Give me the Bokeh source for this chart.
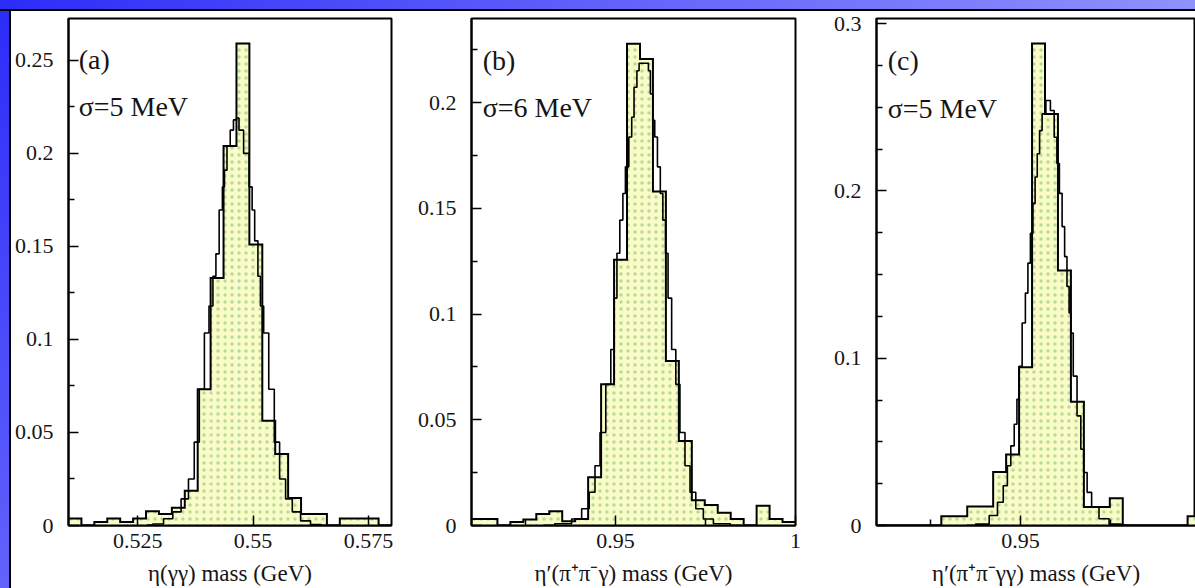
import numpy as np
from bokeh.plotting import figure
from bokeh.layouts import row, column
from bokeh.models import Div, FixedTicker, Label, Range1d
from bokeh.embed import file_html
from bokeh.resources import INLINE

# ---------------- data ----------------
# panel (a): eta -> gamma gamma
a_edges = [0.5100, 0.5128, 0.5156, 0.5184, 0.5212, 0.5240, 0.5268, 0.5296, 0.5324,
           0.5352, 0.5380, 0.5408, 0.5436, 0.5464, 0.5492, 0.5520, 0.5548, 0.5576,
           0.5604, 0.5632, 0.5660, 0.5688, 0.5716, 0.5744, 0.5772, 0.5800]
a_counts = [0.0038, 0.0, 0.0019, 0.0038, 0.0019, 0.0038, 0.0077, 0.0062, 0.0095,
            0.0187, 0.0732, 0.133, 0.204, 0.259, 0.151, 0.0563, 0.0384, 0.0148,
            0.0062, 0.0062, 0.0, 0.0038, 0.0038, 0.0038, 0.0]
a_fit_x = [0.5270, 0.5295, 0.5317, 0.5335, 0.5353, 0.5367, 0.5378, 0.5389, 0.5400,
           0.5409, 0.5417, 0.5422, 0.5431, 0.5436, 0.5440, 0.5447, 0.5454, 0.5461,
           0.5467, 0.5472, 0.5487, 0.5496, 0.5500, 0.5507, 0.5514, 0.5518, 0.5528,
           0.5540, 0.5552, 0.5563, 0.5578, 0.5592, 0.5614, 0.5635, 0.5660]
a_fit_y = [0.0002, 0.0008, 0.0036, 0.0073, 0.0143, 0.025, 0.0448, 0.0732, 0.1035,
           0.118, 0.134, 0.146, 0.1696, 0.182, 0.191, 0.204, 0.2125, 0.218,
           0.219, 0.2125, 0.2, 0.182, 0.1696, 0.153, 0.134, 0.118, 0.1035,
           0.0732, 0.0448, 0.025, 0.0143, 0.0073, 0.0025, 0.0005, 0.0001]

# panel (b): eta' -> pi+ pi- gamma
b_edges = [0.9100, 0.9136, 0.9172, 0.9208, 0.9244, 0.9280, 0.9316, 0.9352, 0.9388,
           0.9424, 0.9460, 0.9496, 0.9532, 0.9568, 0.9604, 0.9640, 0.9676, 0.9712,
           0.9748, 0.9784, 0.9820, 0.9856, 0.9892, 0.9928, 0.9964, 1.0000]
b_counts = [0.0031, 0.0031, 0.0, 0.0016, 0.0028, 0.0055, 0.0068, 0.0020, 0.0031,
            0.0228, 0.0668, 0.1257, 0.228, 0.2207, 0.158, 0.0778, 0.040, 0.012,
            0.0097, 0.006, 0.0031, 0.0, 0.0094, 0.0031, 0.0016]
b_fit_x = [0.9300, 0.9362, 0.9394, 0.9418, 0.9436, 0.9450, 0.9464, 0.9482, 0.9492,
           0.9501, 0.9507, 0.9517, 0.9524, 0.9531, 0.9543, 0.9547, 0.9556, 0.9563,
           0.9568, 0.9590, 0.9593, 0.9601, 0.9606, 0.9612, 0.9621, 0.9628, 0.9635,
           0.9643, 0.9649, 0.9663, 0.9672, 0.9686, 0.9700, 0.9714, 0.9732, 0.9756,
           0.9788, 0.9850]
b_fit_y = [0.0001, 0.0008, 0.0031, 0.0079, 0.0157, 0.0283, 0.044, 0.0668, 0.0833,
           0.1076, 0.1288, 0.1445, 0.1571, 0.1697, 0.1838, 0.1932, 0.2074, 0.2152,
           0.2187, 0.2187, 0.2152, 0.2042, 0.1917, 0.1838, 0.1697, 0.1571, 0.1445,
           0.1288, 0.1076, 0.0833, 0.0668, 0.044, 0.0283, 0.0157, 0.0079, 0.0031,
           0.0008, 0.0001]

# panel (c): eta' -> pi+ pi- gamma gamma
c_edges = b_edges
c_counts = [0.0, 0.0, 0.0, 0.0, 0.0, 0.0055, 0.0055, 0.0113, 0.0113,
            0.032, 0.0425, 0.0946, 0.288, 0.246, 0.1524, 0.074, 0.011, 0.011,
            0.0163, 0.0, 0.0, 0.0, 0.0, 0.0, 0.0056]
c_fit_x = [0.9350, 0.9399, 0.9427, 0.9445, 0.9459, 0.9468, 0.9478, 0.9487, 0.9493,
           0.9499, 0.9510, 0.9517, 0.9524, 0.9531, 0.9538, 0.9543, 0.9550, 0.9556,
           0.9564, 0.9577, 0.9589, 0.9598, 0.9604, 0.9612, 0.9619, 0.9626, 0.9632,
           0.9638, 0.9642, 0.9651, 0.9663, 0.9672, 0.9679, 0.9691, 0.9704, 0.9732,
           0.9760, 0.9800]
c_fit_y = [0.0001, 0.0008, 0.006, 0.0139, 0.0238, 0.0357, 0.0476, 0.0605, 0.0754,
           0.0952, 0.121, 0.1389, 0.1568, 0.1746, 0.1925, 0.2083, 0.2222, 0.236,
           0.246, 0.254, 0.248, 0.232, 0.2163, 0.1985, 0.1786, 0.1607, 0.1429,
           0.127, 0.115, 0.0893, 0.0655, 0.0456, 0.0317, 0.0198, 0.011, 0.004,
           0.0008, 0.0001]

# axis ticks and labels
a_xticks = [0.525, 0.55, 0.575]
a_xlabels = ["0.525", "0.55", "0.575"]
a_yticks = [0, 0.05, 0.1, 0.15, 0.2, 0.25]
a_ylabels = ["0", "0.05", "0.1", "0.15", "0.2", "0.25"]
a_yminor = [0.025, 0.075, 0.125, 0.175, 0.225]

b_xticks = [0.95, 1.0]
b_xlabels = ["0.95", "1"]
b_xminor = [0.925, 0.975]
b_yticks = [0, 0.05, 0.1, 0.15, 0.2]
b_ylabels = ["0", "0.05", "0.1", "0.15", "0.2"]
b_yminor = [0.025, 0.075, 0.125, 0.175, 0.225]

c_xticks = [0.95, 1.0]
c_xlabels = ["0.95", "1"]
c_xminor = [0.925, 0.975]
c_yticks = [0, 0.1, 0.2, 0.3]
c_ylabels = ["0", "0.1", "0.2", "0.3"]
c_yminor = [0.025, 0.05, 0.075, 0.125, 0.15, 0.175, 0.225, 0.25, 0.275]

titles = ["η(γγ) mass (GeV)", "η′(π⁺π⁻γ) mass (GeV)", "η′(π⁺π⁻γγ) mass (GeV)"]
tags = ["(a)", "(b)", "(c)"]
sigmas = ["σ=5 MeV", "σ=6 MeV", "σ=5 MeV"]

SERIF = "Liberation Serif"
TXT = "#151515"
H = 577


def panel(width, bl, br, xr, yr, edges, vals, fx, fy, xt, xl, xm, yt, yl, ym,
          xlabel, tag, sigma, tag_pos, sig_pos):
    p = figure(width=width, height=H, x_range=Range1d(*xr), y_range=Range1d(*yr),
               output_backend="svg", toolbar_location=None,
               min_border_left=bl, min_border_right=br,
               min_border_top=7, min_border_bottom=61)
    p.grid.visible = False
    p.background_fill_color = "white"
    p.border_fill_color = "white"
    p.outline_line_color = "black"
    p.outline_line_width = 2

    e = np.asarray(edges, dtype=float)
    v = np.asarray(vals, dtype=float)
    p.quad(left=e[:-1], right=e[1:], bottom=0, top=v,
           fill_color="#fbfbc8", line_color=None,
           hatch_pattern="dot", hatch_color="#a6d88c", hatch_scale=7,
           hatch_weight=1.4, hatch_alpha=0.85)
    sx = np.repeat(e, 2)
    sy = np.concatenate([[0.0], np.repeat(v, 2), [0.0]])
    p.line(sx, sy, line_color="black", line_width=2, line_join="miter")
    p.step(fx, fy, mode="center", line_color="black", line_width=1.6)

    xa = p.xaxis[0]
    xa.ticker = FixedTicker(ticks=xt, minor_ticks=xm)
    xa.major_label_overrides = dict(zip(xt, xl))
    ya = p.yaxis[0]
    ya.ticker = FixedTicker(ticks=yt, minor_ticks=ym)
    ya.major_label_overrides = dict(zip(yt, yl))
    for ax in (xa, ya):
        ax.major_tick_in = 10
        ax.major_tick_out = 0
        ax.minor_tick_in = 6
        ax.minor_tick_out = 0
        ax.axis_line_width = 2
        ax.axis_line_color = "black"
        ax.major_tick_line_width = 1.5
        ax.minor_tick_line_width = 1.5
        ax.major_label_text_font = SERIF
        ax.major_label_text_font_size = "22px"
        ax.major_label_text_color = TXT
    xa.major_label_standoff = 8
    ya.major_label_standoff = 15
    xa.axis_label = xlabel
    xa.axis_label_text_font = SERIF
    xa.axis_label_text_font_size = "23px"
    xa.axis_label_text_font_style = "normal"
    xa.axis_label_text_color = TXT
    xa.axis_label_standoff = 10

    p.add_layout(Label(x=tag_pos[0], y=tag_pos[1], text=tag, text_font=SERIF,
                       text_font_size="28px", text_baseline="middle",
                       text_align="left", text_color=TXT))
    p.add_layout(Label(x=sig_pos[0], y=sig_pos[1], text=sigma, text_font=SERIF,
                       text_font_size="28px", text_baseline="middle",
                       text_align="left", text_color=TXT))
    return p


pa = panel(403, 56, 23, (0.51, 0.58), (0, 0.2725), a_edges, a_counts, a_fit_x, a_fit_y,
           a_xticks, a_xlabels, [], a_yticks, a_ylabels, a_yminor,
           titles[0], tags[0], sigmas[0], (0.5122, 0.2505), (0.5122, 0.2254))
pb = panel(406, 57, 25, (0.91, 1.0), (0, 0.2399), b_edges, b_counts, b_fit_x, b_fit_y,
           b_xticks, b_xlabels, b_xminor, b_yticks, b_ylabels, b_yminor,
           titles[1], tags[1], sigmas[1], (0.9131, 0.220), (0.9131, 0.198))
pc = panel(375, 56, 0, (0.91, 0.9986), (0, 0.303), c_edges, c_counts, c_fit_x, c_fit_y,
           c_xticks, c_xlabels, c_xminor, c_yticks, c_ylabels, c_yminor,
           titles[2], tags[2], sigmas[2], (0.9131, 0.2778), (0.9131, 0.2492))

top = Div(text="", width=1195, height=11, margin=0, styles={
    "background": "linear-gradient(to bottom, rgba(0,0,0,0) 0px, rgba(0,0,0,0) 9px, #000 9px, #000 11px), "
                  "linear-gradient(to right, #2c2cf8 0%, #5252fa 35%, #7474fc 70%, #9090fe 100%)"})
left = Div(text="", width=11, height=H, margin=0, styles={
    "background": "linear-gradient(to right, rgba(0,0,0,0) 0px, rgba(0,0,0,0) 9px, #000 9px, #000 11px), "
                  "linear-gradient(to bottom, #2c2cf8 0%, #4848fa 50%, #6262fc 100%)"})

layout = column(top, row(left, pa, pb, pc, spacing=0), spacing=0)

open("out.html", "w").write(file_html(layout, INLINE))
